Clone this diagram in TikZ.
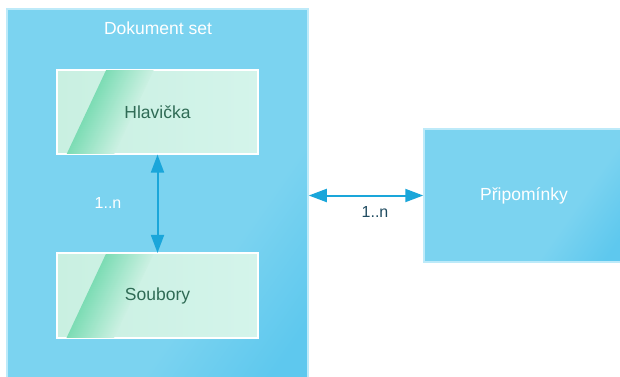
\documentclass[tikz,border=0pt]{standalone}
\usepackage{fontspec}
\setmainfont{Liberation Sans}
\usepackage{tikz}
\usetikzlibrary{calc,arrows.meta}
\usepackage{xcolor}

% Farby
\definecolor{setblue}{HTML}{7BD3F0}
\definecolor{setdeep}{HTML}{5EC8EE}
\definecolor{setline}{HTML}{BDEAF9}
\definecolor{mintpale}{HTML}{C9F0E1}
\definecolor{mintlight}{HTML}{D4F4EB}
\definecolor{mintdark}{HTML}{7CDCB4}
\definecolor{minttext}{HTML}{2F6B55}
\definecolor{linkblue}{HTML}{1AA6DA}
\definecolor{labeldark}{HTML}{1F4B60}

% Tien kontajnera: ploche modre pole, tmavsie len v rohu
\pgfdeclarehorizontalshading{setshade}{100bp}{color(0bp)=(setblue);
  color(25bp)=(setblue); color(64bp)=(setblue); color(80bp)=(setdeep);
  color(100bp)=(setdeep)}

\tikzset{
  setbox/.style={draw=setline, line width=1.5pt, shading=setshade,
    shading angle=-35, inner sep=0pt},
  partbox/.style={draw=white, line width=1.2pt, left color=mintpale,
    right color=mintlight, minimum width=201pt, minimum height=84pt,
    inner sep=0pt},
  link/.style={draw=linkblue, line width=2pt,
    {Triangle[length=18pt,width=13pt]}-{Triangle[length=18pt,width=13pt]}},
  txt/.style={font=\fontsize{17.5}{20}\selectfont},
  num/.style={font=\fontsize{16}{18}\selectfont}
}

\begin{document}
\begin{tikzpicture}[x=1pt, y=-1pt]
  \clip (0,0) rectangle (620,376);
  \fill[white] (0,0) rectangle (620,376);

  % Kontajner s dokumentmi
  \node[setbox, minimum width=301pt, minimum height=370pt] (docset) at (157.5,194) {};
  \node[txt, text=white] (title) at (158,28) {Dokument set};

  % Casti dokumentu
  \node[partbox] (head) at (157.5,112) {};
  \node[partbox] (files) at (157.5,295.5) {};

  % Sikmy zeleny pruh v kazdej casti
  \foreach \part in {head,files} {
    \begin{scope}
      \clip (\part.south west) rectangle (\part.north east);
      \foreach \i in {0,...,46} {
        \pgfmathsetmacro{\p}{100-\i*100/46}
        \fill[mintdark!\p!mintpale]
          ($(\part.south west)+(10+\i,0)$) -- ($(\part.north west)+(50+\i,0)$)
          -- ($(\part.north west)+(51.5+\i,0)$) -- ($(\part.south west)+(11.5+\i,0)$) -- cycle;
      }
    \end{scope}
    \draw[white, line width=1.2pt] (\part.south west) rectangle (\part.north east);
  }
  \node[txt, text=minttext] (headtxt) at (head) {Hlavička};
  \node[txt, text=minttext] (filestxt) at (files) {Soubory};

  % Pripomienky
  \node[setbox, minimum width=200pt, minimum height=133pt] (notes) at (524,195.5) {};
  \node[txt, text=white] (notestxt) at (notes) {Připomínky};

  % Vazby
  \draw[link] (head.south) -- (files.north);
  \node[num, text=white] (inner) at (108,203) {1..n};
  \draw[link] (notes.west -| docset.east) -- (notes.west);
  \node[num, text=labeldark] (outer) at (375,212) {1..n};
\end{tikzpicture}
\end{document}
